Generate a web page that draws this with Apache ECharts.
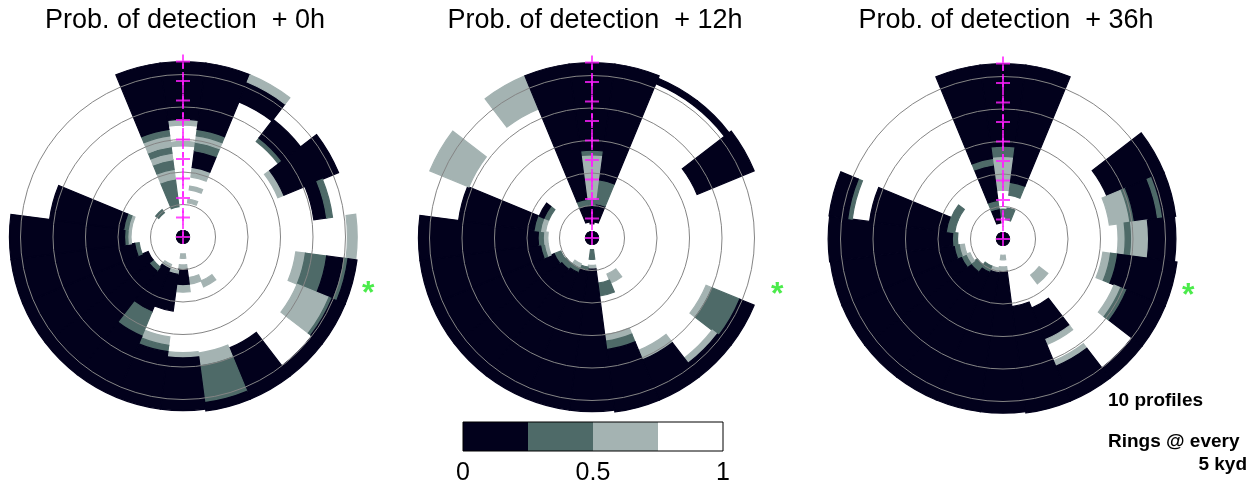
<!DOCTYPE html>
<html>
<head>
<meta charset="utf-8">
<script src="https://cdn.jsdelivr.net/npm/echarts@6/dist/echarts.min.js"></script>
<style>
  html, body { margin: 0; padding: 0; background: #fff; }
  #chart { width: 1257px; height: 486px; }
</style>
</head>
<body>
<div id="chart"></div>
<script>
// Detection-probability maps around the ship, three forecast times.
// Each row is one 15-degree bearing sector (0, 15, ..., 345 deg, clockwise from north);
// tokens "c:r" give the probability class c (0..3) out to range r (kyd), from the centre out.
const TITLES = ['Prob. of detection  + 0h', 'Prob. of detection  + 12h', 'Prob. of detection  + 36h'];
const SECTOR_DEG = 15;
const CLASS_P = [0.125, 0.375, 0.625, 0.875];          // mid value of each probability class
const CLASS_EDGES = [0, 0.25, 0.5, 0.75, 1];
const CLASS_COLORS = ['#02011c', '#4e6a68', '#a4b3b2', '#ffffff'];
const COLORBAR_TICKS = [0, 0.5, 1];
const RING_STEP = 5;          // kyd
const RANGE_MAX = 30;         // kyd shown by the radius axis
const PROFILE_RANGES = [0, 3, 6, 9, 12, 15, 18, 21, 24, 27];
const PROFILE_BEARING = 0;
const MARK_POS = [29.5, 105];  // [range kyd, bearing deg] of the green mark

const grid0h = [
  '0:1 3:14 2:14.7 3:17.2 2:18.1 0:27',
  '0:1 3:5.3 2:5.9 3:7.3 2:7.9 3:9.3 2:10.8 0:13.4 1:14.7 2:15.7 1:16.7 0:27',
  '0:1 3:22.5 0:25.8 2:27',
  '0:1 3:18.5 1:19.2 0:22.8 3:27',
  '0:1 3:15.8 2:16.8 0:25.9',
  '0:1 3:20.3 0:22.3 1:23.2',
  '0:1 3:25.3 2:26.8',
  '0:1 3:17.5 2:19 1:22.3 0:25 1:25.6 0:27',
  '0:1 3:19 2:24.3 1:24.8 0:27',
  '0:1 3:25 0:27',
  '0:1 3:7.3 2:8.3 3:18.5 0:27',
  '0:1 3:6.3 2:7.3 3:18 2:20 1:25.7 0:27',
  '0:1 3:2.6 2:3.3 3:4.3 2:5 0:7.5 2:8.5 3:17.8 2:18.6 0:26.7',
  '0:1 3:5.2 2:5.8 0:11.5 3:15.5 2:16.8 1:17.8 0:26.7',
  '0:1 3:4.6 2:5.3 0:12.5 1:16.5 0:26.7',
  '0:1 3:5.8 1:6.6 0:26.7',
  '0:1 3:5.8 0:26.7',
  '0:1 3:6.8 1:7.5 0:26.7',
  '0:1 3:8 2:8.5 1:9 0:26.7',
  '0:1 3:8 2:8.5 1:9.2 0:20.7',
  '0:1',
  '0:1 3:4.7 1:5.3',
  '0:1',
  '0:1 3:4.7 1:9 2:10.5 1:12 2:13 1:14 2:15.7 1:16.7 0:27'
];

const grid12h = [
  '0:1 3:2.2 0:5 1:6 2:12.8 1:13.5 0:27',
  '0:1 3:2.5 0:5.3 1:9 0:27',
  '0:1 3:25.7 0:26.6',
  '0:1 3:25.7 0:26.6',
  '0:1 3:17.5 0:27',
  '0:1',
  '0:1',
  '0:1',
  '0:1 3:19 2:20 1:24.6 0:27',
  '0:1 3:23.3 2:24.3 0:27',
  '0:1 3:6 2:7.5 3:18.7 2:20.3 0:27',
  '0:1 3:7 1:9 3:15 2:16 1:17.3 0:27',
  '0:1 3:1.8 1:3.3 3:4.2 2:4.8 0:26.7',
  '0:1 3:4.5 1:5.1 0:26.7',
  '0:1 3:4.3 2:5 1:5.7 0:26.7',
  '0:1 3:5 1:6 0:26.7',
  '0:1 3:5.2 1:6.3 0:26.7',
  '0:1 3:6.8 2:7.4 1:8 0:26.7',
  '0:1 3:6.8 2:7.5 1:8.3 0:26.7',
  '0:1 3:7.2 2:8 1:9 0:20.7',
  '0:1 3:7.2 1:8 0:8.8 3:20.5 2:27',
  '0:1',
  '0:1 3:21.5 2:27',
  '0:1 3:2.5 0:5 1:6 0:27'
];

const grid36h = [
  '0:1 3:3.4 1:4.6 3:7.5 2:12.7 1:14.3 0:27',
  '0:1 3:3 1:4.8 3:6.8 1:8.8 0:27',
  '0:1',
  '0:1',
  '0:1 3:17.3 0:26.8',
  '0:1 3:16.5 2:19.7 1:20.4 0:24 1:24.8 0:26.8',
  '0:1 3:17.7 2:18.8 1:19.8 2:22.4 0:26.6',
  '0:1 3:15.5 2:16.7 1:17.8 0:27',
  '0:1 3:18.5 2:19.6 1:20.6 0:27',
  '0:1 3:7 2:8.7 3:25 0:27',
  '0:1 3:11.5 0:16.8 2:17.6 3:20.3 2:21.2 0:27',
  '0:1 3:10.5 0:27',
  '0:1 3:2.5 2:3.2 3:4.3 2:5 0:26.8',
  '0:1 3:4.5 2:5.2 0:26.8',
  '0:1 3:4.5 1:5.5 0:26.8',
  '0:1 3:5 1:6.3 0:26.8',
  '0:1 3:5.5 2:6.2 1:7 0:26.8',
  '0:1 3:6 2:6.8 1:7.6 0:26.8',
  '0:1 3:7 1:7.8 0:26.9',
  '0:1 3:7.5 1:8.8 0:20.7 3:23.4 1:24.1 0:27',
  '0:1 3:7.5 1:8.6',
  '0:1',
  '0:1',
  '0:1 3:2.5 0:4.7 1:6 0:11.5 1:12.5 0:27'
];

const GRIDS = [grid0h, grid12h, grid36h];
const CENTERS = [[183, 237], [592, 238], [1003, 239]];
const TITLE_X = [185, 595, 1006];
const POLAR_RADIUS = 195;   // px for RANGE_MAX

// Expand the sector rows into cells [rInner, rOuter, bearingStart, bearingEnd, p]
function toCells(rows) {
  const cells = [];
  rows.forEach(function (row, k) {
    const a0 = k * SECTOR_DEG - SECTOR_DEG / 2;
    let r0 = 0;
    row.trim().split(/\s+/).forEach(function (tok) {
      const parts = tok.split(':');
      const r1 = parseFloat(parts[1]);
      cells.push([r0, r1, a0, a0 + SECTOR_DEG, CLASS_P[+parts[0]]]);
      r0 = r1;
    });
  });
  return cells;
}

function renderCell(params, api) {
  const cs = params.coordSys;
  const r0 = api.value(0), r1 = api.value(1), a0 = api.value(2), a1 = api.value(3);
  const pIn = api.coord([r0, a0]);
  const pA = api.coord([r1, a0]);
  const pB = api.coord([r1, a1]);
  const rIn = Math.hypot(pIn[0] - cs.cx, pIn[1] - cs.cy);
  const rOut = Math.hypot(pA[0] - cs.cx, pA[1] - cs.cy);
  const sa = Math.atan2(pA[1] - cs.cy, pA[0] - cs.cx);
  let ea = Math.atan2(pB[1] - cs.cy, pB[0] - cs.cx);
  if (ea <= sa) ea += Math.PI * 2;
  const color = api.visual('color');
  const white = api.value(4) >= CLASS_EDGES[3];
  return {
    type: 'sector',
    z2: white ? 0 : 1,
    shape: { cx: cs.cx, cy: cs.cy, r0: rIn, r: rOut, startAngle: sa, endAngle: ea, clockwise: true },
    style: { fill: color, stroke: white ? null : color, lineWidth: white ? 0 : 1.2, lineJoin: 'miter' }
  };
}

const CROSS_PATH = 'path://M11.2,0H14.8V11.2H26V14.8H14.8V26H11.2V14.8H0V11.2H11.2Z';
const MAGENTA = '#ff1eff';
const FONT = '"Liberation Sans", Arial, sans-serif';

const polar = [], angleAxis = [], radiusAxis = [], series = [], graphic = [];
const ringColors = [];
for (let v = 0; v <= RANGE_MAX; v += RING_STEP) ringColors.push(v > 0 && v < RANGE_MAX ? '#858585' : 'rgba(0,0,0,0)');

GRIDS.forEach(function (rows, i) {
  polar.push({ center: CENTERS[i], radius: POLAR_RADIUS });
  angleAxis.push({
    polarIndex: i, type: 'value', min: 0, max: 360, startAngle: 90, clockwise: true,
    axisLine: { show: false }, axisTick: { show: false }, axisLabel: { show: false }, splitLine: { show: false }
  });
  radiusAxis.push({
    polarIndex: i, type: 'value', min: 0, max: RANGE_MAX, interval: RING_STEP, z: 3,
    axisLine: { show: false }, axisTick: { show: false }, axisLabel: { show: false },
    splitLine: { show: true, lineStyle: { color: ringColors, width: 1 } }
  });
  series.push({
    type: 'custom', coordinateSystem: 'polar', polarIndex: i,
    encode: { radius: [0, 1], angle: [2, 3] },
    renderItem: renderCell, data: toCells(rows), silent: true, animation: false, z: 2
  });
  series.push({
    type: 'line', coordinateSystem: 'polar', polarIndex: i,
    data: [[PROFILE_RANGES[0], PROFILE_BEARING], [PROFILE_RANGES[PROFILE_RANGES.length - 1], PROFILE_BEARING]],
    symbol: 'none', lineStyle: { color: MAGENTA, width: 1.5, type: [5, 3] }, z: 5, animation: false, silent: true
  });
  series.push({
    type: 'scatter', coordinateSystem: 'polar', polarIndex: i,
    data: PROFILE_RANGES.map(function (r) { return [r, PROFILE_BEARING]; }),
    symbol: CROSS_PATH, symbolSize: 14, itemStyle: { color: MAGENTA }, z: 6, animation: false, silent: true
  });
  series.push({
    type: 'scatter', coordinateSystem: 'polar', polarIndex: i,
    data: [MARK_POS], symbolSize: 1, itemStyle: { color: 'rgba(0,0,0,0)' },
    label: { show: true, position: 'inside', formatter: '*', color: '#1ee61e', fontSize: 32, fontWeight: 'bold', fontFamily: FONT, offset: [0, 8] },
    z: 6, animation: false, silent: true
  });
  graphic.push({
    type: 'text', x: TITLE_X[i], y: 21,
    style: { text: TITLES[i], font: '27px ' + FONT, fill: '#000', textAlign: 'center', textVerticalAlign: 'middle' }
  });
});

// Colour bar: four equal probability classes
CLASS_COLORS.forEach(function (c, k) {
  series.push({
    type: 'bar', xAxisIndex: 0, yAxisIndex: 0, stack: 'classes',
    data: [CLASS_EDGES[k + 1] - CLASS_EDGES[k]], barWidth: '100%',
    itemStyle: { color: c }, animation: false, silent: true
  });
});

graphic.push(
  { type: 'text', x: 1108, y: 401, style: { text: '10 profiles', font: 'bold 19px ' + FONT, fill: '#000', textVerticalAlign: 'middle' } },
  { type: 'text', x: 1108, y: 442, style: { text: 'Rings @ every', font: 'bold 19px ' + FONT, fill: '#000', textVerticalAlign: 'middle' } },
  { type: 'text', x: 1247, y: 465, style: { text: '5 kyd', font: 'bold 19px ' + FONT, fill: '#000', textAlign: 'right', textVerticalAlign: 'middle' } }
);

const chart = echarts.init(document.getElementById('chart'), null, { renderer: 'canvas' });
chart.setOption({
  backgroundColor: '#ffffff',
  animation: false,
  polar: polar,
  angleAxis: angleAxis,
  radiusAxis: radiusAxis,
  grid: [{ left: 463, top: 422, width: 260, height: 30, show: true, borderColor: '#000', borderWidth: 1, z: 4 }],
  xAxis: [{
    type: 'value', gridIndex: 0, min: COLORBAR_TICKS[0], max: COLORBAR_TICKS[COLORBAR_TICKS.length - 1], interval: 0.5,
    axisLine: { show: false }, axisTick: { show: false }, splitLine: { show: false },
    axisLabel: { color: '#000', fontSize: 25, fontFamily: FONT, margin: 10 }
  }],
  yAxis: [{ type: 'category', gridIndex: 0, data: ['p'], show: false }],
  visualMap: [{
    type: 'piecewise', show: false, dimension: 4, seriesIndex: [0, 4, 8],
    pieces: [
      { gte: CLASS_EDGES[0], lt: CLASS_EDGES[1], color: CLASS_COLORS[0] },
      { gte: CLASS_EDGES[1], lt: CLASS_EDGES[2], color: CLASS_COLORS[1] },
      { gte: CLASS_EDGES[2], lt: CLASS_EDGES[3], color: CLASS_COLORS[2] },
      { gte: CLASS_EDGES[3], lte: CLASS_EDGES[4], color: CLASS_COLORS[3] }
    ]
  }],
  graphic: graphic,
  series: series
});
</script>
</body>
</html>
